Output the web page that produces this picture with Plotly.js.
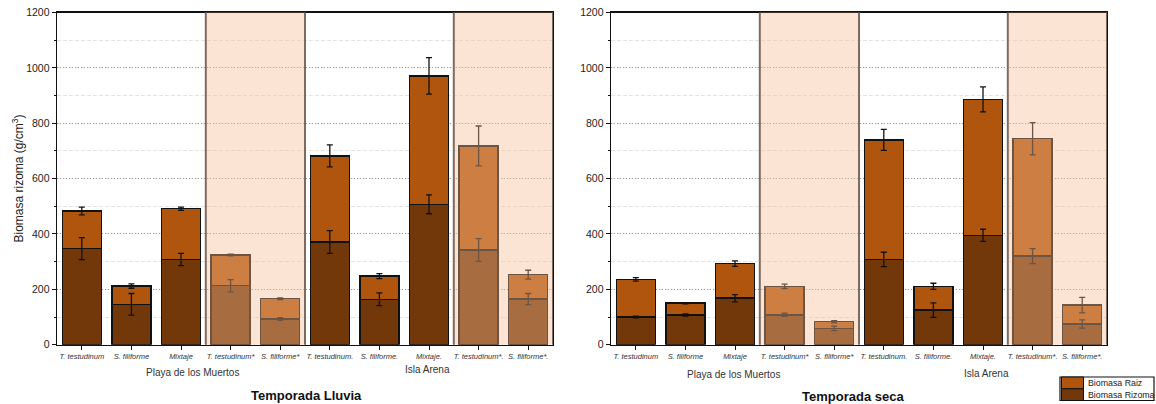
<!DOCTYPE html>
<html>
<head>
<meta charset="utf-8">
<script src="https://cdn.plot.ly/plotly-3.0.1.min.js"></script>
<style>
  html, body { margin: 0; padding: 0; background: #ffffff; }
  #chart { width: 1156px; height: 404px; }
</style>
</head>
<body>
<div id="chart"></div>
<script>
// Species / site categories along each x axis
const categories = [
  "T. testudinum", "S. filiforme", "Mixtaje", "T. testudinum*", "S. filiforme*",
  "T. testudinum.", "S. filiforme.", "Mixtaje.", "T. testudinum*.", "S. filiforme*."
];

// Rainy season (Temporada Lluvia), g/cm3
const lluviaRizoma    = [347, 146, 308, 213, 93, 371, 164, 507, 342, 165];
const lluviaRizomaErr = [40, 39, 22, 22, 5, 41, 23, 34, 41, 20];
const lluviaRaiz      = [136, 66, 183, 111, 73, 311, 84, 464, 376, 88];
const lluviaRaizErr   = [14, 8, 6, 3, 3, 40, 9, 66, 72, 16];

// Dry season (Temporada seca), g/cm3
const secaRizoma    = [100, 107, 168, 108, 59, 308, 125, 395, 320, 75];
const secaRizomaErr = [3, 4, 13, 6, 8, 26, 26, 22, 27, 15];
const secaRaiz      = [136, 43, 125, 103, 24, 432, 86, 491, 424, 68];
const secaRaizErr   = [6, 2, 10, 8, 4, 38, 11, 45, 58, 28];

const seriesNames = ["Biomasa Raiz", "Biomasa Rizoma"];
const siteNames = ["Playa de los Muertos", "Isla Arena"];
const panelTitles = ["Temporada Lluvia", "Temporada seca"];
const yTitle = "Biomasa rizoma (g/cm<sup>3</sup>)";

const COL_RAIZ = "#B0550E";
const COL_RIZOMA = "#73380A";
const FONT = "Liberation Sans, Arial, sans-serif";

const W = 1156, H = 404;
const px = v => v / W;          // horizontal pixel -> paper
const py = v => 1 - v / H;      // vertical pixel -> paper

function barTrace(y, color, xa, ya, name) {
  return {
    type: "bar", x: categories, y: y, name: name,
    xaxis: xa, yaxis: ya, showlegend: false,
    marker: { color: color, line: { color: "#111111", width: 1.4 } },
    hoverinfo: "skip"
  };
}
// Error whiskers sit on top of each stacked segment; drawn as a separate
// layer so the upper segment does not hide the lower segment's whisker.
function errTrace(top, err, xa, ya) {
  return {
    type: "scatter", mode: "markers", x: categories, y: top,
    xaxis: xa, yaxis: ya, showlegend: false, hoverinfo: "skip",
    marker: { size: 1, opacity: 0 },
    error_y: { type: "data", array: err, visible: true, color: "#111111", thickness: 1.3, width: 3 }
  };
}
const stackTop = (a, b) => a.map((v, i) => v + b[i]);

const data = [
  barTrace(lluviaRizoma, COL_RIZOMA, "x", "y", seriesNames[1]),
  barTrace(lluviaRaiz, COL_RAIZ, "x", "y", seriesNames[0]),
  barTrace(secaRizoma, COL_RIZOMA, "x2", "y2", seriesNames[1]),
  barTrace(secaRaiz, COL_RAIZ, "x2", "y2", seriesNames[0]),
  errTrace(stackTop(lluviaRizoma, lluviaRaiz), lluviaRaizErr, "x", "y"),
  errTrace(lluviaRizoma, lluviaRizomaErr, "x", "y"),
  errTrace(stackTop(secaRizoma, secaRaiz), secaRaizErr, "x2", "y2"),
  errTrace(secaRizoma, secaRizomaErr, "x2", "y2")
];

const yDomain = [py(344.7), py(12.5)];

function xAxis(domain, anchor) {
  return {
    domain: domain, anchor: anchor, type: "category",
    range: [-0.5, categories.length - 0.5],
    showline: true, linecolor: "#111111", linewidth: 1.4, mirror: true,
    ticks: "outside", ticklen: 4, tickcolor: "#111111", tickwidth: 1,
    tickfont: { family: FONT, size: 7.5, color: "#333333", style: "italic" },
    showgrid: false, zeroline: false, fixedrange: true
  };
}
function yAxis(anchor) {
  return {
    domain: yDomain, anchor: anchor, range: [0, 1200],
    tickvals: [0, 200, 400, 600, 800, 1000, 1200],
    showline: true, linecolor: "#111111", linewidth: 1.4, mirror: true,
    ticks: "outside", ticklen: 4, tickcolor: "#111111", tickwidth: 1,
    tickfont: { family: FONT, size: 10.5, color: "#222222" },
    showgrid: true, gridcolor: "#9a9a9a", griddash: "1px,2px", gridwidth: 1,
    minor: { dtick: 100, tick0: 0, ticks: "outside", ticklen: 2, tickcolor: "#111111",
             showgrid: true, gridcolor: "#e4e4e4", griddash: "4px,2px", gridwidth: 1 },
    zeroline: false, fixedrange: true
  };
}

// Shaded bands over the starred categories (drawn above the bars)
const shapes = [];
[["x", "y"], ["x2", "y2"]].forEach(([xa, ya]) => {
  [[2.5, 4.5], [7.5, 9.5]].forEach(([a, b]) => {
    shapes.push({ type: "rect", layer: "above", xref: xa, yref: ya + " domain",
      x0: a, x1: b, y0: 0, y1: 1, fillcolor: "rgba(248,188,148,0.4)", line: { width: 0 } });
    [a, b].forEach(xv => shapes.push({ type: "line", layer: "above", xref: xa, yref: ya + " domain",
      x0: xv, x1: xv, y0: 0, y1: 1, line: { color: "#7e6b5f", width: 2 } }));
  });
});

// Legend box with full-height swatches
const lg = { x0: 1060, x1: 1154, y0: 377, y1: 400.5 };
const rowH = (lg.y1 - lg.y0) / 2;
shapes.push({ type: "rect", xref: "paper", yref: "paper", x0: px(lg.x0), x1: px(lg.x1),
  y0: py(lg.y1), y1: py(lg.y0), fillcolor: "#ffffff", line: { color: "#111111", width: 1.2 } });
[COL_RAIZ, COL_RIZOMA].forEach((c, i) => {
  shapes.push({ type: "rect", xref: "paper", yref: "paper",
    x0: px(1061.5), x1: px(1083.5),
    y0: py(lg.y0 + rowH * (i + 1)), y1: py(lg.y0 + rowH * i),
    fillcolor: c, line: { color: "#111111", width: 1 } });
});

const annotations = [];
function paperText(text, x, y, font, opts) {
  annotations.push(Object.assign({
    text: text, xref: "paper", yref: "paper", x: px(x), y: py(y),
    xanchor: "center", yanchor: "middle", showarrow: false, font: font
  }, opts || {}));
}
function siteText(text, xa, xIndex, y) {
  annotations.push({ text: text, xref: xa, yref: "paper", x: xIndex, y: py(y),
    showarrow: false, xanchor: "center", yanchor: "middle",
    font: { family: FONT, size: 10, color: "#333333" } });
}
// site labels under each panel
siteText(siteNames[0], "x", 2.24, 372);
siteText(siteNames[1], "x", 6.96, 369.5);
siteText(siteNames[0], "x2", 1.96, 374);
siteText(siteNames[1], "x2", 7.08, 373.5);
// panel titles
paperText("<b>" + panelTitles[0] + "</b>", 306, 395, { family: FONT, size: 13, color: "#111111" });
paperText("<b>" + panelTitles[1] + "</b>", 853, 396, { family: FONT, size: 13, color: "#111111" });
// y-axis title
paperText(yTitle, 17, 178.5, { family: FONT, size: 12, color: "#222222" }, { textangle: -90 });
// legend labels
seriesNames.forEach((n, i) => {
  paperText(n, 1085.5, lg.y0 + rowH * (i + 0.5), { family: FONT, size: 8.8, color: "#222222" },
    { xanchor: "left" });
});

const layout = {
  width: W, height: H,
  margin: { l: 0, r: 0, t: 0, b: 0 },
  paper_bgcolor: "#ffffff", plot_bgcolor: "#ffffff",
  barmode: "stack", bargap: 0.21,
  showlegend: false,
  xaxis: xAxis([px(57), px(553)], "y"),
  yaxis: yAxis("x"),
  xaxis2: xAxis([px(611), px(1107)], "y2"),
  yaxis2: yAxis("x2"),
  shapes: shapes,
  annotations: annotations,
  font: { family: FONT }
};

Plotly.newPlot("chart", data, layout, { displayModeBar: false, staticPlot: true });
</script>
</body>
</html>
